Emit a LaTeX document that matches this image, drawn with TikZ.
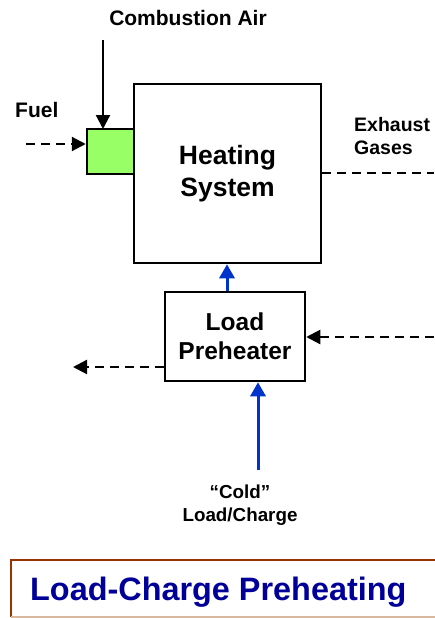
\documentclass[tikz,border=0pt]{standalone}
\usepackage{fontspec}
\setmainfont{Liberation Sans}
\usetikzlibrary{arrows.meta}
\definecolor{fuelgreen}{HTML}{99FF66}
\definecolor{flowblue}{HTML}{0033CC}
\definecolor{titleblue}{HTML}{000099}
\definecolor{titlebrown}{HTML}{993300}
\definecolor{titletan}{HTML}{D9B8A0}
\tikzset{
  blockbox/.style={draw=black, line width=2.5pt, inner sep=0pt, align=center, font=\bfseries},
  lbl/.style={inner sep=0pt, font=\bfseries, align=center},
  tip/.style={-{Triangle[length=14pt,width=14pt]}},
  flowline/.style={line width=2.2pt, tip},
  dashflow/.style={line width=2.2pt, dash pattern=on 9pt off 6pt},
  blueflow/.style={draw=flowblue, line width=3pt, -{Triangle[length=14pt,width=15pt]}},
}
\begin{document}
\begin{tikzpicture}[x=1pt,y=-1pt]
\useasboundingbox (0,0) rectangle (434,618);
% heating system
\node[blockbox, minimum width=187pt, minimum height=179pt, font=\bfseries\fontsize{26.5}{32}\selectfont] (heat) at (227.5,173.5) {Heating\\System};
% burner
\node[draw=black, line width=2.5pt, fill=fuelgreen, minimum width=47pt, minimum height=45pt, inner sep=0pt] (burner) at (110.5,151.5) {};
% load preheater
\node[blockbox, minimum width=140pt, minimum height=89pt, font=\bfseries\fontsize{24.5}{29}\selectfont] (pre) at (235,336.5) {Load\\Preheater};
% labels
\node[lbl, anchor=base, font=\bfseries\fontsize{21}{23}\selectfont] (air) at (188,26) {Combustion Air};
\node[lbl, anchor=base west, font=\bfseries\fontsize{21}{23}\selectfont] (fuel) at (15,117) {Fuel};
\node[lbl, anchor=base west, align=left, font=\bfseries\fontsize{19.5}{23}\selectfont] (exh) at (354,154) {Exhaust\\Gases};
\node[lbl, anchor=base, font=\bfseries\fontsize{18.8}{23}\selectfont] (cold) at (240,521) {“Cold”\\Load/Charge};
% connector end points
\coordinate (airtop) at (103,40);
\coordinate (airend) at (103,129);
\coordinate (fuelstart) at (26,144);
\coordinate (exhend) at (434,173);
\coordinate (hotin) at (434,337);
\coordinate (coolout) at (73,367);
\coordinate (coldstart) at (258,470);
% connectors
\draw[flowline] (airtop) -- (airend);
\draw[dashflow, tip] (fuelstart) -- (burner.west |- fuelstart);
\draw[dashflow] (heat.east |- exhend) -- (exhend);
\draw[dashflow, tip] (hotin) -- (pre.east |- hotin);
\draw[dashflow, tip] (pre.west |- coolout) -- (coolout);
\draw[blueflow] (pre.north -| 227,0) -- (heat.south -| 227,0);
\draw[blueflow] (coldstart) -- (pre.south -| coldstart);
% title box
\draw[titlebrown, line width=2pt] (440,560) -- (11,560) -- (11,617);
\draw[titletan, line width=1.5pt] (11,617) -- (440,617);
\node[anchor=base west, inner sep=0pt, text=titleblue, font=\bfseries\fontsize{32.4}{38}\selectfont] (title) at (30,600) {Load-Charge Preheating};
\end{tikzpicture}
\end{document}
